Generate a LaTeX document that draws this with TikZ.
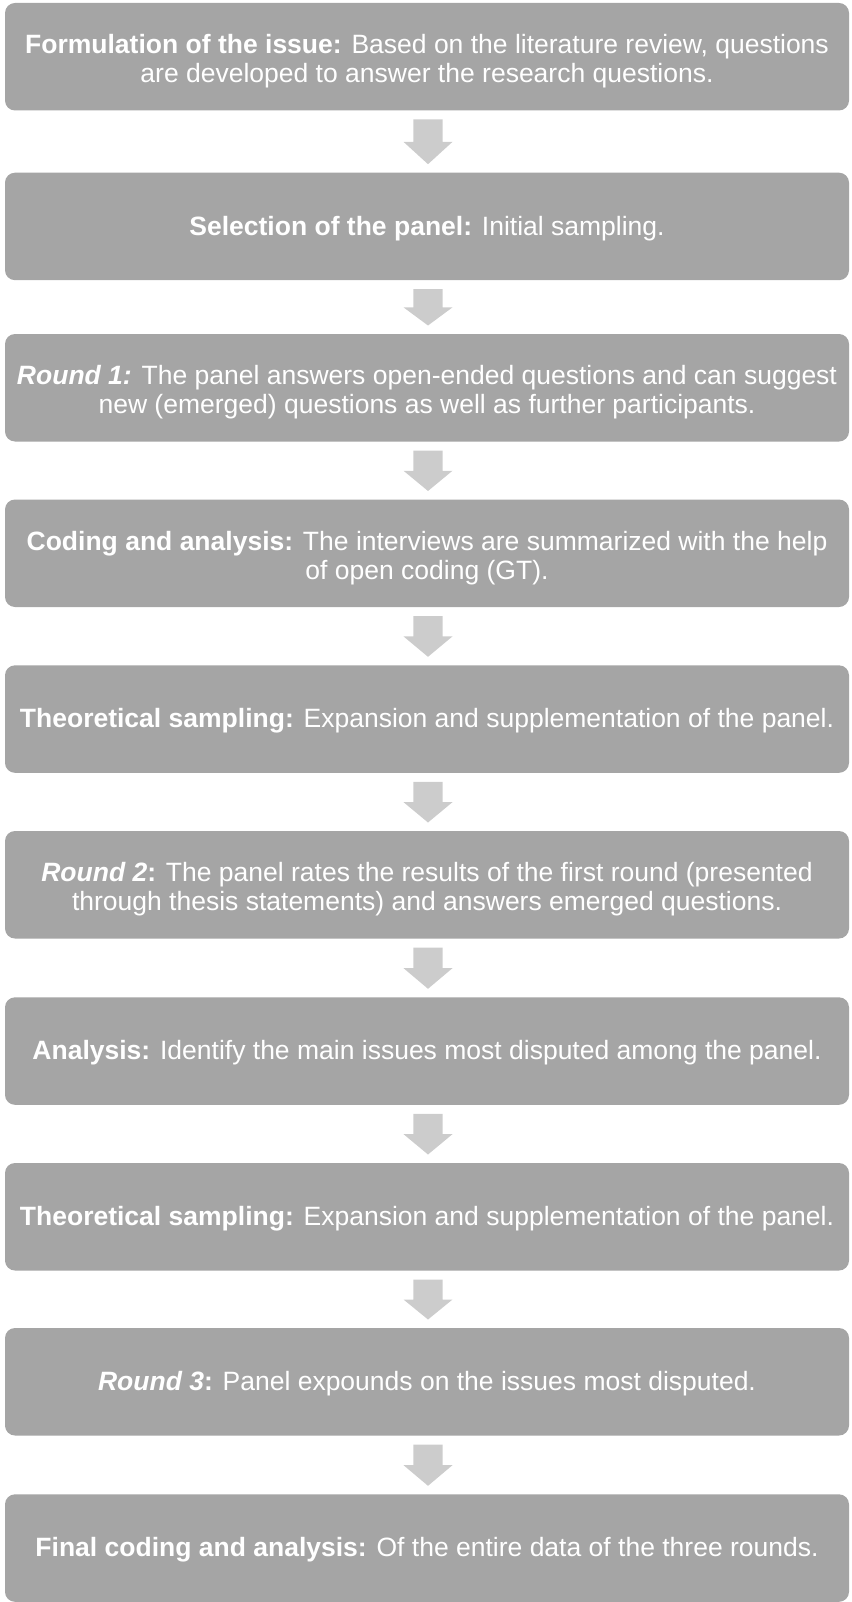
\documentclass[tikz,border=0pt]{standalone}
\usepackage{fontspec}
\setmainfont{Liberation Sans}
\begin{document}
\begin{tikzpicture}[x=1pt,y=-1pt,
  stepbox/.style={fill=boxgray, rounded corners=10pt, draw=none},
  steptext/.style={text=white, align=center, font=\fontsize{26.5}{29}\selectfont, inner sep=0pt},
  downarrow/.style={fill=arrowgray, draw=none}]
\definecolor{boxgray}{HTML}{A5A5A5}
\definecolor{arrowgray}{HTML}{CCCCCC}
\useasboundingbox (0,0) rectangle (851,1602);
\foreach \i/\top/\dy/\txt in {
 0/3/58.5/{\textbf{Formulation of the issue:} Based on the literature review, questions\\are developed to answer the research questions.},
 1/172.7/55.5/{\textbf{Selection of the panel:} Initial sampling.},
 2/334/58.5/{\textbf{\textit{Round 1:}} The panel answers open-ended questions and can suggest\\new (emerged) questions as well as further participants.},
 3/499.5/58.5/{\textbf{Coding and analysis:} The interviews are summarized with the help\\of open coding (GT).},
 4/665.3/55.5/{\textbf{Theoretical sampling:} Expansion and supplementation of the panel.},
 5/831/58.5/{\textbf{\textit{Round 2}:} The panel rates the results of the first round (presented\\through thesis statements) and answers emerged questions.},
 6/997.3/55.5/{\textbf{Analysis:} Identify the main issues most disputed among the panel.},
 7/1163/55.5/{\textbf{Theoretical sampling:} Expansion and supplementation of the panel.},
 8/1328/55.5/{\textbf{\textit{Round 3}:} Panel expounds on the issues most disputed.},
 9/1494.3/55.5/{\textbf{Final coding and analysis:} Of the entire data of the three rounds.}} {
  \path[stepbox] (5,\top) rectangle (849,\top+107.5);
  \node[steptext] (t\i) at (427,\top+\dy) {\txt};
}
\foreach \i/\s/\f in {0/110.5/172.7, 1/280.2/334, 2/441.5/499.5, 3/607/665.3, 4/772.8/831, 5/938.5/997.3, 6/1104.8/1163, 7/1270.5/1328, 8/1435.5/1494.3} {
  \pgfmathsetmacro{\ya}{\s+9}
  \pgfmathsetmacro{\yc}{\f-8.5}
  \pgfmathsetmacro{\yb}{(\ya+\yc)/2}
  \coordinate (ar\i) at (428,\ya);
  \fill[downarrow] (413.3,\ya) -- (442.7,\ya) -- (442.7,\yb) -- (452.5,\yb)
     -- (428,\yc) -- (403.5,\yb) -- (413.3,\yb) -- cycle;
}
\end{tikzpicture}
\end{document}
